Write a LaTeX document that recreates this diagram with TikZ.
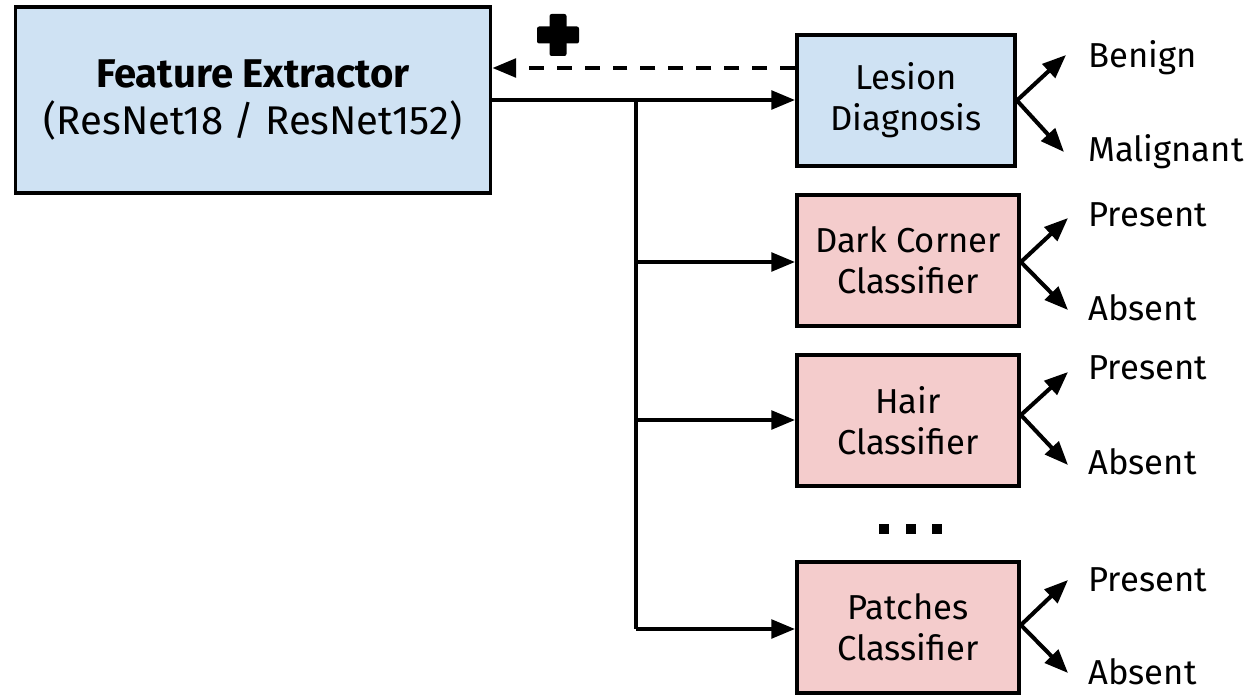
\documentclass[tikz,border=0pt]{standalone}
\usepackage{fontspec}
\setmainfont{Fira Sans}
\usetikzlibrary{arrows.meta}
\definecolor{boxblue}{HTML}{CFE2F3}
\definecolor{boxred}{HTML}{F4CCCC}
\tikzset{
  px/.style={x=0.02cm,y=-0.02cm},
  boxbase/.style={draw=black,line width=2.2pt,align=center,inner sep=0pt},
  bluebox/.style={boxbase,fill=boxblue},
  redbox/.style={boxbase,fill=boxred,minimum width=4.44cm,minimum height=2.62cm,font=\fontsize{19.7}{23.5}\selectfont},
  conn/.style={line width=2.3pt,-{Triangle[length=13.5pt,width=10.5pt]}},
  plainline/.style={line width=2.3pt},
  outlabel/.style={anchor=west,inner sep=0pt,font=\fontsize{19.7}{23.5}\selectfont},
  dotsq/.style={fill=black,minimum size=0.2cm,inner sep=0pt},
}
\begin{document}
\begin{tikzpicture}[px]
\useasboundingbox (0,0) rectangle (1247,696);
% boxes
\node[bluebox,minimum width=9.5cm,minimum height=3.72cm,font=\fontsize{22.8}{26.5}\selectfont] (fe) at (253,100) {\textbf{Feature Extractor}\\(ResNet18 / ResNet152)};
\node[bluebox,minimum width=4.36cm,minimum height=2.62cm,font=\fontsize{19.7}{23.5}\selectfont] (ld) at (906,100.5) {Lesion\\Diagnosis};
\node[redbox] (dc) at (908,260.5) {Dark Corner\\Classifier};
\node[redbox] (hc) at (908,420.5) {Hair\\Classifier};
\node[redbox] (pc) at (908,627.5) {Patches\\Classifier};
% feedback
\draw[conn,dash pattern=on 8.5pt off 7.4pt] (ld.west |- 0,68) -- (fe.east |- 0,68);
\fill[rounded corners=1.2pt] (549.5,14) rectangle (566.5,56);
\fill[rounded corners=1.2pt] (537,26.5) rectangle (579,43.5);
% trunk
\coordinate (t0) at (636,100);
\coordinate (t3) at (636,629);
\draw[conn] (fe.east |- t0) -- (ld.west |- t0);
\draw[plainline,line join=round] (t0) -- (t3);
\draw[conn] (636,262) -- (dc.west |- 0,262);
\draw[conn] (636,420) -- (hc.west |- 0,420);
\draw[conn] (t3) -- (pc.west |- t3);
% dots
\node[dotsq] (d1) at (884,529) {};
\node[dotsq] (d2) at (911,529) {};
\node[dotsq] (d3) at (937,529) {};
% outputs
\node[outlabel] (b) at (1088,58) {Benign};
\node[outlabel] (m) at (1088,152) {Malignant};
\node[outlabel] (p1) at (1088,215) {Present};
\node[outlabel] (a1) at (1088,308) {Absent};
\node[outlabel] (p2) at (1088,368) {Present};
\node[outlabel] (a2) at (1088,462) {Absent};
\node[outlabel] (p3) at (1088,580) {Present};
\node[outlabel] (a3) at (1088,672) {Absent};
\coordinate (eb) at (1066,55);
\coordinate (em) at (1064,152);
\coordinate (ep1) at (1068,218);
\coordinate (ea1) at (1068,310);
\coordinate (ep2) at (1068,372);
\coordinate (ea2) at (1068,465);
\coordinate (ep3) at (1068,580);
\coordinate (ea3) at (1068,673);
\draw[conn] (ld.east) -- (eb);
\draw[conn] (ld.east) -- (em);
\draw[conn] (dc.east |- 0,262) -- (ep1);
\draw[conn] (dc.east |- 0,262) -- (ea1);
\draw[conn] (hc.east |- 0,415) -- (ep2);
\draw[conn] (hc.east |- 0,415) -- (ea2);
\draw[conn] (pc.east |- 0,625) -- (ep3);
\draw[conn] (pc.east |- 0,625) -- (ea3);
\end{tikzpicture}
\end{document}
